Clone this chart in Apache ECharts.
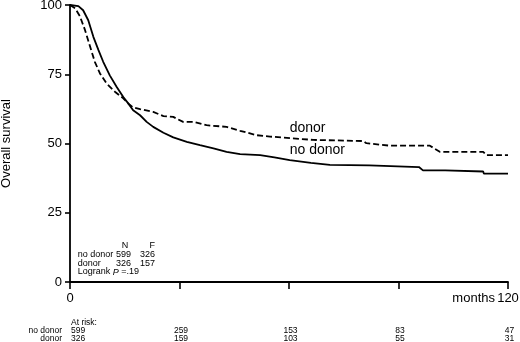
<!DOCTYPE html>
<html>
<head>
<meta charset="utf-8">
<script src="https://cdn.jsdelivr.net/npm/echarts@6/dist/echarts.min.js"></script>
<style>
  html, body { margin: 0; padding: 0; background: #fff; }
  #chart { width: 520px; height: 342px; }
</style>
</head>
<body>
<div id="chart"></div>
<script>
// Kaplan-Meier curves, [months, % surviving]
const noDonor = [
  [0, 100], [2.3, 99.6], [3.6, 98.1], [5.0, 94.5], [6.4, 88.5], [7.8, 83.7],
  [9.1, 79.5], [10.9, 74.6], [12.8, 70.4], [14.6, 66.8], [16.0, 64.4], [17.3, 62.0],
  [19.2, 60.2], [21.0, 57.8], [22.8, 56.0], [25.6, 53.9], [28.3, 52.2], [32.0, 50.6],
  [35.6, 49.4], [39.3, 48.2], [42.9, 47.0], [46.6, 46.2], [52.1, 45.8], [56, 45.0],
  [60.2, 44.0], [66, 43.0], [71.2, 42.3], [82.0, 42.1], [82.2, 41.5], [95.6, 41.5],
  [96.7, 40.3], [102.8, 40.3], [103.0, 39.9], [113.2, 39.9], [113.4, 39.1], [120, 39.1]
];
const donor = [
  [0, 100], [1.4, 98.8], [2.7, 96.0], [4.1, 91.0], [5.5, 85.0], [6.8, 79.5],
  [8.2, 75.3], [10.0, 71.7], [12.3, 68.7], [14.6, 66.3], [16.0, 64.4], [17.3, 63.0],
  [19.2, 62.4], [22.8, 61.4], [25.6, 59.9], [28.3, 59.6], [31.0, 57.8], [33.8, 57.8],
  [37.4, 56.6], [42.9, 56.0], [46.6, 54.6], [51.1, 53.0], [54.8, 52.5], [66.6, 51.3],
  [80.3, 50.9], [81.2, 50.1], [87.7, 49.2], [98.6, 49.2], [101.3, 47.0], [113.2, 47.0],
  [114.1, 45.8], [120, 45.8]
];

// numbers at risk
const riskMonths = [0, 30, 60, 90, 120];
const riskNoDonor = [599, 259, 153, 83, 47];
const riskDonor = [326, 159, 103, 55, 31];

// summary table
const summaryRows = [
  ['no donor', 599, 326],
  ['donor', 326, 157]
];
const logrankP = '.19';

const font = 'Liberation Sans, Arial, Helvetica, sans-serif';
const chart = echarts.init(document.getElementById('chart'), null, { renderer: 'canvas' });

chart.setOption({
  animation: false,
  backgroundColor: '#fff',
  grid: { left: 70, right: 12, top: 5, bottom: 60, containLabel: false, outerBoundsMode: 'none' },
  xAxis: {
    type: 'value', min: 0, max: 120, interval: 30,
    splitLine: { show: false },
    axisLine: { onZero: false, lineStyle: { color: '#000', width: 1.8 } },
    axisTick: { length: 7, lineStyle: { color: '#000', width: 1.6 } },
    axisLabel: {
      margin: 10, color: '#000', fontSize: 13, fontFamily: font,
      formatter: v => (v === 0 || v === 120) ? String(v) : ''
    }
  },
  yAxis: {
    type: 'value', min: 0, max: 100, interval: 25,
    name: 'Overall survival', nameLocation: 'middle', nameGap: 57,
    nameTextStyle: { color: '#000', fontSize: 13, fontFamily: font },
    splitLine: { show: false },
    axisLine: { lineStyle: { color: '#000', width: 1.8 } },
    axisTick: { length: 5, lineStyle: { color: '#000', width: 1.6 } },
    axisLabel: { margin: 8, color: '#000', fontSize: 13, fontFamily: font }
  },
  series: [
    {
      name: 'no donor', type: 'line', data: noDonor, symbol: 'none',
      lineStyle: { color: '#000', width: 1.8 }
    },
    {
      name: 'donor', type: 'line', data: donor, symbol: 'none',
      lineStyle: { color: '#000', width: 1.8, type: [6, 3] }
    }
  ]
});

// text placed by data coordinates
const px = (x, y) => chart.convertToPixel({ gridIndex: 0 }, [x, y]);
const txt = (x, y, text, size, align, extra) => ({
  type: 'text', x: x, y: y,
  style: Object.assign({
    text: text, fill: '#000', font: size + 'px ' + font,
    textAlign: align || 'left', textVerticalAlign: 'middle'
  }, extra || {})
});

const g = [];
let p = px(60.2, 55.6);
g.push(txt(p[0], p[1], 'donor', 14));
p = px(60.2, 47.7);
g.push(txt(p[0], p[1], 'no donor', 14));

// "months" before the 120 label
p = px(120, 0);
g.push(txt(p[0] - 13, 298, 'months', 13, 'right'));

// summary table
g.push(txt(125, 246, 'N', 9, 'center'));
g.push(txt(155, 246, 'F', 9, 'right'));
summaryRows.forEach((r, i) => {
  const y = 255 + i * 8.5;
  g.push(txt(77.7, y, r[0], 9));
  g.push(txt(131, y, String(r[1]), 9, 'right'));
  g.push(txt(155, y, String(r[2]), 9, 'right'));
});
g.push({
  type: 'text', x: 77.7, y: 272,
  style: {
    text: '{a|Logrank }{i|P}{a| =' + logrankP + '}',
    textVerticalAlign: 'middle',
    rich: {
      a: { fontSize: 9, fontFamily: font, fill: '#000', color: '#000' },
      i: { fontSize: 9, fontFamily: font, fontStyle: 'italic', fill: '#000', color: '#000' }
    }
  }
});

// at-risk table
g.push(txt(71, 323, 'At risk:', 8.5));
g.push(txt(62, 331, 'no donor', 8.5, 'right'));
g.push(txt(62, 338.5, 'donor', 8.5, 'right'));
riskMonths.forEach((m, i) => {
  const x = px(m, 0)[0];
  const align = i === 0 ? 'left' : 'center';
  const xx = i === 0 ? x + 1 : x + 1.5;
  g.push(txt(xx, 331, String(riskNoDonor[i]), 8.5, align));
  g.push(txt(xx, 338.5, String(riskDonor[i]), 8.5, align));
});

chart.setOption({ graphic: g });
</script>
</body>
</html>
